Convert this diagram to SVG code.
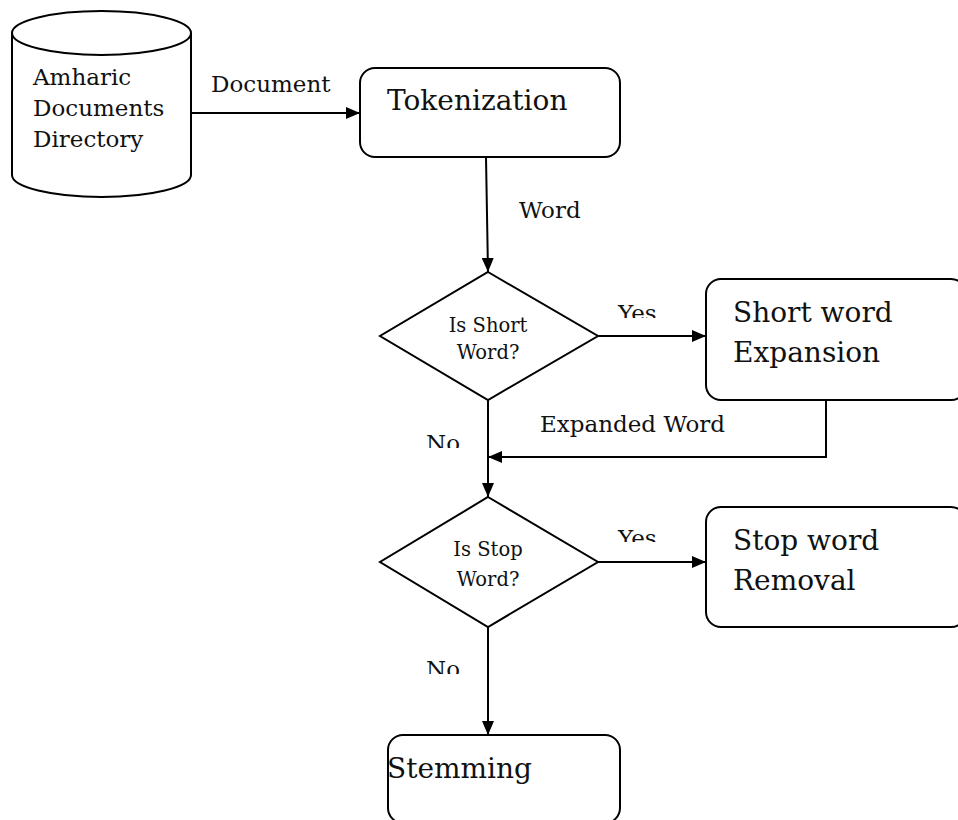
<svg xmlns="http://www.w3.org/2000/svg" width="958" height="820" viewBox="0 0 958 820">
<style>
.s{fill:#fff;stroke:#000;stroke-width:2}
.c{fill:none;stroke:#000;stroke-width:2}
.t{font-family:"DejaVu Serif","Liberation Serif",serif;fill:#111}
.big{font-size:28px}
.mid{font-size:23px}
.sm{font-size:19.5px}
</style>
<defs>
<marker id="ah" viewBox="0 0 14 12" refX="14" refY="6" markerWidth="14" markerHeight="12" markerUnits="userSpaceOnUse" orient="auto">
<path d="M0,0 L14,6 L0,12 Z" fill="#000"/>
</marker>
<clipPath id="cy1"><rect x="600" y="290" width="80" height="28"/></clipPath>
<clipPath id="cy2"><rect x="600" y="515" width="80" height="27"/></clipPath>
<clipPath id="cn1"><rect x="410" y="420" width="60" height="28"/></clipPath>
<clipPath id="cn2"><rect x="410" y="645" width="60" height="29"/></clipPath>
</defs>
<rect width="958" height="820" fill="#fff"/>
<g id="connectors">
<line class="c" x1="191" y1="113" x2="360" y2="113" marker-end="url(#ah)"/>
<line class="c" x1="486" y1="157" x2="488" y2="272" marker-end="url(#ah)"/>
<line class="c" x1="598" y1="336" x2="706" y2="336" marker-end="url(#ah)"/>
<polyline class="c" points="826,400 826,457 488,457" marker-end="url(#ah)"/>
<line class="c" x1="488" y1="400" x2="488" y2="497" marker-end="url(#ah)"/>
<line class="c" x1="598" y1="562" x2="706" y2="562" marker-end="url(#ah)"/>
<line class="c" x1="488" y1="627" x2="488" y2="735" marker-end="url(#ah)"/>
<text class="t mid" x="211" y="92">Document</text>
<text class="t mid" x="519" y="218">Word</text>
<text class="t mid" x="618" y="321" clip-path="url(#cy1)">Yes</text>
<text class="t mid" x="540" y="432">Expanded Word</text>
<text class="t mid" x="426" y="451" clip-path="url(#cn1)">No</text>
<text class="t mid" x="618" y="546" clip-path="url(#cy2)">Yes</text>
<text class="t mid" x="426" y="677" clip-path="url(#cn2)">No</text>
</g>
<g id="directory">
<path class="s" d="M12,33 V175 A89.5,22 0 0 0 191,175 V33"/>
<ellipse class="s" cx="101.5" cy="33" rx="89.5" ry="22"/>
<text class="t mid" x="33" y="85">Amharic</text>
<text class="t mid" x="33" y="116">Documents</text>
<text class="t mid" x="33" y="147">Directory</text>
</g>
<g id="tokenization">
<rect class="s" x="360" y="68" width="260" height="89" rx="15"/>
<text class="t big" x="387" y="110">Tokenization</text>
</g>
<g id="isshort">
<polygon class="s" points="488,272 598,336 488,400 380,336"/>
<text class="t sm" x="488" y="332" text-anchor="middle">Is Short</text>
<text class="t sm" x="488" y="359" text-anchor="middle">Word?</text>
</g>
<g id="expansion">
<rect class="s" x="706" y="279" width="260" height="121" rx="15"/>
<text class="t big" x="733" y="322">Short word</text>
<text class="t big" x="733" y="362">Expansion</text>
</g>
<g id="isstop">
<polygon class="s" points="488,497 598,562 488,627 380,562"/>
<text class="t sm" x="488" y="556" text-anchor="middle">Is Stop</text>
<text class="t sm" x="488" y="586" text-anchor="middle">Word?</text>
</g>
<g id="removal">
<rect class="s" x="706" y="507" width="260" height="120" rx="15"/>
<text class="t big" x="733" y="550">Stop word</text>
<text class="t big" x="733" y="590">Removal</text>
</g>
<g id="stemming">
<rect class="s" x="388" y="735" width="232" height="88" rx="15"/>
<text class="t big" x="387" y="778">Stemming</text>
</g>
</svg>
